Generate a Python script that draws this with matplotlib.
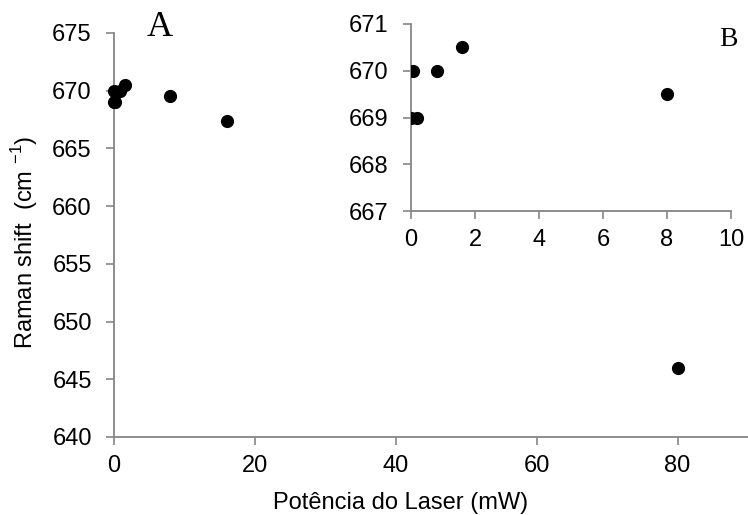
import matplotlib
matplotlib.use("Agg")
import matplotlib.pyplot as plt

# laser power (mW) vs Raman shift (cm-1)
power = [0, 0.05, 0.2, 0.8, 1.6, 8, 16, 80]
shift = [669, 670, 669, 670, 670.5, 669.5, 667.4, 646]

main_xticks = [0, 20, 40, 60, 80]
main_yticks = [640, 645, 650, 655, 660, 665, 670, 675]
inset_xticks = [0, 2, 4, 6, 8, 10]
inset_yticks = [667, 668, 669, 670, 671]

plt.rcParams["font.family"] = ["Liberation Sans", "DejaVu Sans"]
plt.rcParams["mathtext.fontset"] = "custom"
plt.rcParams["mathtext.rm"] = "Liberation Sans"

GRAY = "#868686"
W, H = 748, 515


def style_axes(ax, fs):
    for side in ["top", "right"]:
        ax.spines[side].set_visible(False)
    for side in ["left", "bottom"]:
        ax.spines[side].set_color(GRAY)
        ax.spines[side].set_linewidth(1.3)
    ax.tick_params(axis="both", direction="out", length=6, width=1.2,
                   color=GRAY, labelsize=fs, labelcolor="black")
    ax.tick_params(axis="y", pad=10)
    ax.tick_params(axis="x", pad=7)


fig = plt.figure(figsize=(W / 100, H / 100), dpi=100)

# -------------------------------------------------
# MAIN PLOT
# -------------------------------------------------
ax = fig.add_axes([114 / W, 1 - 437 / H, 1 - 114 / W, (437 - 33) / H])
ax.scatter(power, shift, s=72, color="black", zorder=3, clip_on=False)
ax.set_xlim(0, 90)
ax.set_ylim(640, 675)
ax.set_xticks(main_xticks)
ax.set_yticks(main_yticks)
style_axes(ax, 17)
ax.set_xlabel("Potência do Laser (mW)", fontsize=17)
ax.set_ylabel("Raman shift  (cm $^{\\mathregular{-1}}$)", fontsize=17)
ax.xaxis.set_label_coords((401 - 114) / (W - 114), -(503 - 437) / 404,
                          transform=ax.transAxes)
ax.xaxis.label.set_va("center")
ax.yaxis.set_label_coords(-(114 - 25) / (W - 114), (437 - 242) / 404,
                          transform=ax.transAxes)
ax.yaxis.label.set_va("center")

# -------------------------------------------------
# INSET
# -------------------------------------------------
ins = fig.add_axes([411 / W, 1 - 211 / H, (731 - 411) / W, (211 - 24) / H])
ins.patch.set_alpha(0)
ins.scatter(power, shift, s=72, color="black", zorder=3, clip_on=True)
ins.set_xlim(0, 10)
ins.set_ylim(667, 671)
ins.set_xticks(inset_xticks)
ins.set_yticks(inset_yticks)
style_axes(ins, 17)

fig.text(160 / W, 1 - 27 / H, "A", family="Liberation Serif", fontsize=26,
         ha="center", va="center")
fig.text(728 / W, 1 - 39 / H, "B", family="Liberation Serif", fontsize=20,
         ha="center", va="center")

fig.savefig("out.png", dpi=100)
